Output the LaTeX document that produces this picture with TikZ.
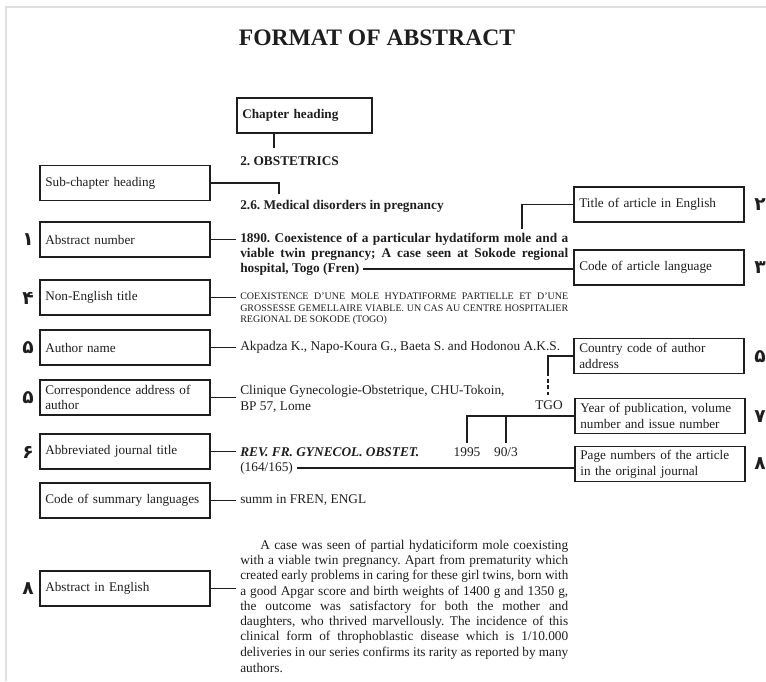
\documentclass[tikz,border=0pt]{standalone}
\usepackage{fontspec}
\setmainfont{Liberation Serif}
\newfontfamily\numfont[Script=Arabic]{DejaVu Sans}
\definecolor{ink}{HTML}{1E1E1E}
\frenchspacing
\newlength\jw
\newcommand\jline[2]{\settowidth\jw{#2}\ifdim\jw>#1\relax\resizebox{#1}{\height}{#2}\else\makebox[#1][s]{#2}\fi}
\begin{document}
\begin{tikzpicture}[x=0.75pt,y=-0.75pt,
  lbox/.style={draw=ink, line width=1.1pt, minimum height=26.25pt, minimum width=127.5pt,
    text width=119.5pt, inner xsep=4pt, inner ysep=1pt, align=left, text=ink,
    font=\fontsize{9.9}{11.7}\selectfont},
  conn/.style={draw=ink, line width=0.8pt},
  body/.style={anchor=west, inner sep=3pt, text=ink, font=\fontsize{10}{12}\selectfont},
  bbody/.style={body, font=\fontsize{10}{12}\selectfont\bfseries},
  small/.style={body, font=\fontsize{7.5}{9}\selectfont},
  numl/.style={text=ink, inner sep=0pt, font=\numfont\bfseries\fontsize{14}{14}\selectfont}
]
\useasboundingbox (0,0) rectangle (766,681);
\draw[black!12, line width=1.5pt] (6,681) -- (6,7) -- (766,7);

\node[text=ink, font=\fontsize{17.7}{20}\selectfont\bfseries] (title) at (377,38) {FORMAT OF ABSTRACT};

% chapter
\node[lbox, minimum width=101.25pt, text width=93.25pt, font=\fontsize{9.9}{11.7}\selectfont\bfseries] (chap) at (304.5,115.5) {Chapter heading};
\node[bbody] (obst) at (236,161) {2. OBSTETRICS};
\coordinate (chapEnd) at (274,148);
\draw[conn] (chap.south -| chapEnd) -- (chapEnd);

% sub-chapter
\node[lbox] (sub) at (125,183) {Sub-chapter heading};
\node[bbody] (med) at (236,206) {2.6. Medical disorders in pregnancy};
\coordinate (subEnd) at (279,194);
\draw[conn] (sub.east) -| (subEnd);

% abstract number
\node[lbox] (absnum) at (125,239.5) {Abstract number};
\node[bbody] (coexA) at (236,239) {\jline{246pt}{1890. Coexistence of a particular hydatiform mole and a}};
\node[bbody] (coexB) at (236,254) {\jline{246pt}{viable twin pregnancy; A case seen at Sokode regional}};
\node[bbody] (coexC) at (236,269) {hospital, Togo (Fren)};
\draw[conn] (absnum.east) -- (absnum.east -| coexA.west);

% title in English
\node[lbox] (titleEng) at (659,204.5) {Title of article in English};
\coordinate (titleEnd) at (522,229);
\draw[conn] (titleEng.west) -| (titleEnd);

% code of article language
\node[lbox] (lang) at (659,267.5) {Code of article language};
\draw[conn] (coexC.east) -- (coexC.east -| lang.west);

% non-English title
\node[lbox] (noneng) at (125,297.5) {Non-English title};
\node[small] (neA) at (236,296) {\jline{246pt}{COEXISTENCE D'UNE MOLE HYDATIFORME PARTIELLE ET D'UNE}};
\node[small] (neB) at (236,308) {\jline{246pt}{GROSSESSE GEMELLAIRE VIABLE. UN CAS AU CENTRE HOSPITALIER}};
\node[small] (neC) at (236,320) {REGIONAL DE SOKODE (TOGO)};
\draw[conn] (noneng.east) -- (noneng.east -| neA.west);

% author name
\node[lbox] (author) at (125,347.5) {Author name};
\node[body] (authtxt) at (236,347) {Akpadza K., Napo-Koura G., Baeta S. and Hodonou A.K.S.};
\draw[conn] (author.east) -- (author.east -| authtxt.west);

% country code
\node[lbox] (country) at (659,356) {Country code of author\\address};
\node[body, anchor=east] (tgo) at (567,405) {TGO};
\coordinate (cMid) at (548,372);
\coordinate (cEnd) at (548,395);
\draw[conn] (country.west) -| (cMid);
\draw[conn, dash pattern=on 3pt off 2pt] (cMid) -- (cEnd);

% correspondence
\node[lbox] (corr) at (125,397.5) {Correspondence address of\\author};
\node[body] (corrA) at (236,391) {Clinique Gynecologie-Obstetrique, CHU-Tokoin,};
\node[body] (corrB) at (236,407) {BP 57, Lome};
\draw[conn] (corr.east) -- (corr.east -| corrA.west);

% year / volume
\node[lbox] (year) at (660,416) {Year of publication, volume\\number and issue number};
\node[body, anchor=center] (yr) at (467,452) {1995};
\node[body, anchor=center] (vol) at (506,452) {90/3};
\draw[conn] (year.west) -| (yr.north);
\draw[conn] (vol.north) -- (vol.north |- year.west);

% abbreviated journal title
\node[lbox] (abbr) at (125,451.5) {Abbreviated journal title};
\node[body, font=\fontsize{10}{12}\selectfont\bfseries\itshape] (jrn) at (236,452) {REV. FR. GYNECOL. OBSTET.};
\node[body] (pp) at (236,468) {(164/165)};
\draw[conn] (abbr.east) -- (abbr.east -| jrn.west);

% page numbers
\node[lbox] (pages) at (660,464) {Page numbers of the article\\in the original journal};
\draw[conn] (pp.east) -- (pp.east -| pages.west);

% summary languages
\node[lbox] (summ) at (125,500.5) {Code of summary languages};
\node[body] (summtxt) at (236,500) {summ in FREN, ENGL};
\draw[conn] (summ.east) -- (summ.east -| summtxt.west);

% abstract in English
\node[lbox] (abseng) at (125,588.5) {Abstract in English};
\node[body] (p1) at (256,546) {\jline{231pt}{A case was seen of partial hydaticiform mole coexisting}};
\node[body] (p2) at (236,561.3) {\jline{246pt}{with a viable twin pregnancy. Apart from prematurity which}};
\node[body] (p3) at (236,576.5) {\jline{246pt}{created early problems in caring for these girl twins, born with}};
\node[body] (p4) at (236,591.8) {\jline{246pt}{a good Apgar score and birth weights of 1400 g and 1350 g,}};
\node[body] (p5) at (236,607) {\jline{246pt}{the outcome was satisfactory for both the mother and}};
\node[body] (p6) at (236,622.3) {\jline{246pt}{daughters, who thrived marvellously. The incidence of this}};
\node[body] (p7) at (236,637.5) {\jline{246pt}{clinical form of throphoblastic disease which is 1/10.000}};
\node[body] (p8) at (236,652.8) {\jline{246pt}{deliveries in our series confirms its rarity as reported by many}};
\node[body] (p9) at (236,668) {authors.};
\draw[conn] (abseng.east) -- (abseng.east -| p4.west);

% numerals
\node[numl] (k1) at (28,240) {۱};
\node[numl] (k4) at (28,298) {۴};
\node[numl] (k5a) at (28,348) {۵};
\node[numl] (k5b) at (28,398) {۵};
\node[numl] (k6) at (28,452) {۶};
\node[numl] (k8a) at (28,589) {۸};
\node[numl] (k2) at (760,205) {۲};
\node[numl] (k3) at (760,268) {۳};
\node[numl] (k5c) at (760,357) {۵};
\node[numl] (k7) at (760,417) {۷};
\node[numl] (k8b) at (760,464) {۸};
\end{tikzpicture}
\end{document}
